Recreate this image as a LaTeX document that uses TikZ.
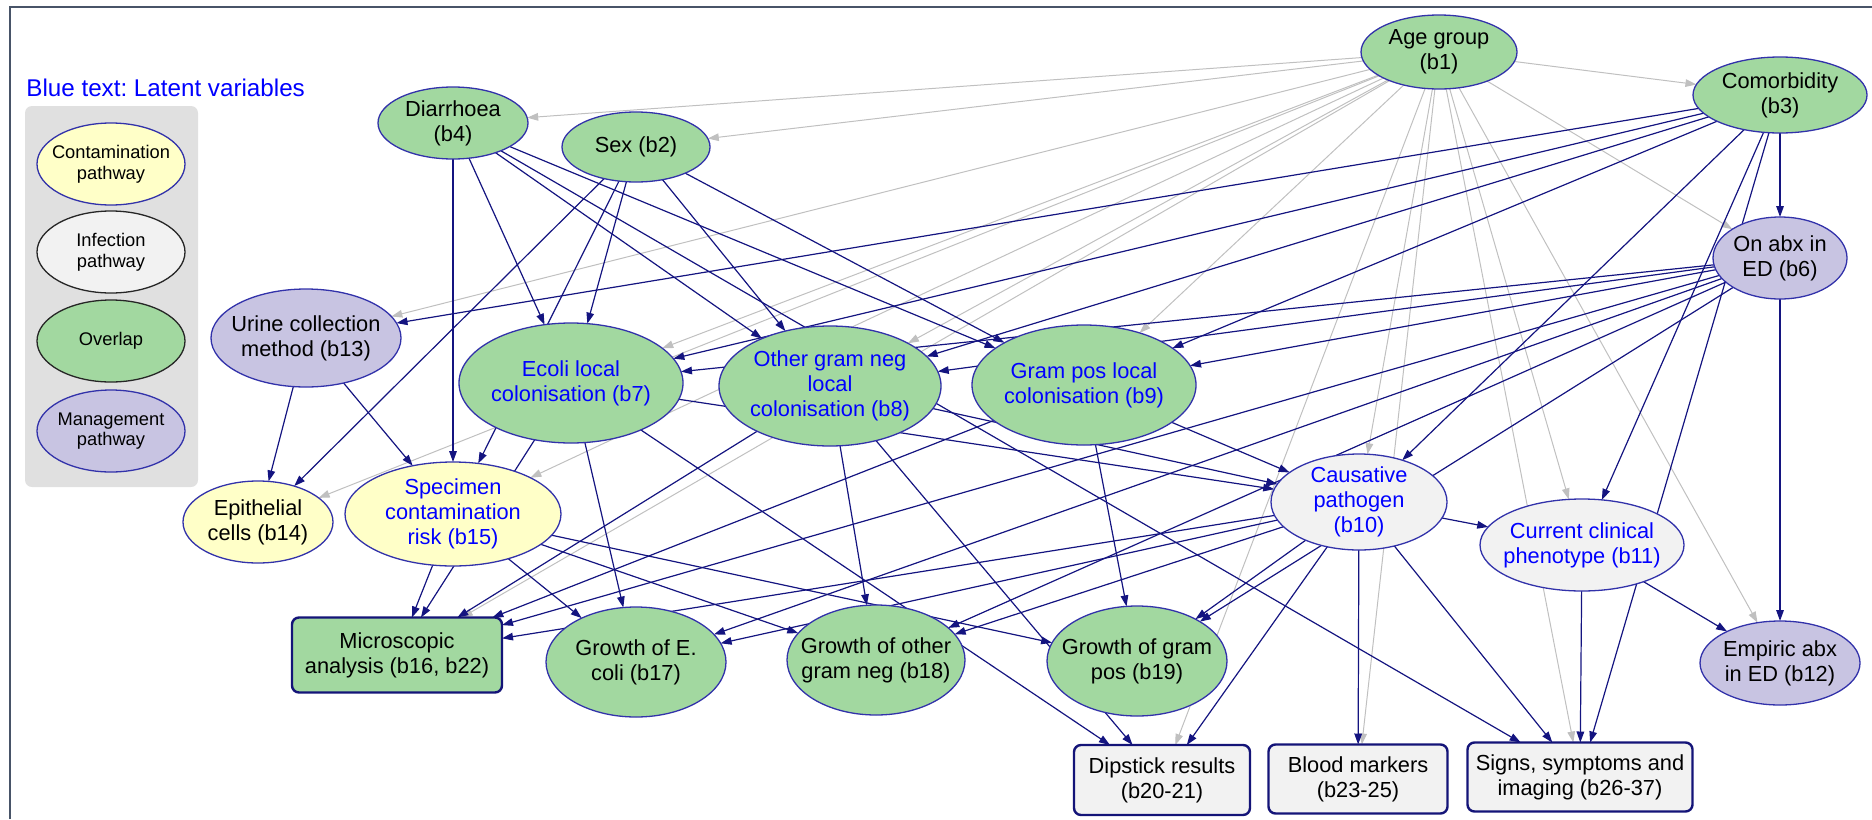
\documentclass[tikz,border=0pt]{standalone}
\usepackage{fontspec}
\setmainfont{Liberation Sans}
\usetikzlibrary{shapes.geometric,arrows.meta,backgrounds}
\definecolor{grn}{RGB}{162,216,160}
\definecolor{ylw}{RGB}{255,255,200}
\definecolor{prp}{RGB}{200,196,226}
\definecolor{lgy}{RGB}{242,242,242}
\definecolor{nodeb}{RGB}{50,50,170}
\definecolor{boxb}{RGB}{20,20,120}
\definecolor{navyc}{RGB}{20,20,128}
\definecolor{grayc}{RGB}{192,192,192}
\definecolor{latent}{RGB}{0,0,255}
\definecolor{legbg}{RGB}{224,224,224}
\definecolor{framec}{RGB}{72,84,104}
\frenchspacing
\begin{document}
\begin{tikzpicture}[x=0.5pt,y=-0.5pt,
 ell/.style={ellipse,draw=nodeb,line width=0.65pt,inner sep=0pt,outer sep=0pt},
 bx/.style={rectangle,rounded corners=3.5pt,draw=boxb,line width=1.2pt,inner sep=0pt,outer sep=0pt},
 lbl/.style={align=center,inner sep=0pt,font=\fontsize{10.9pt}{12.5pt}\selectfont},
 lat/.style={lbl,text=latent},
 leglbl/.style={align=center,inner sep=0pt,font=\fontsize{9.15pt}{10.3pt}\selectfont},
 navyedge/.style={draw=navyc,line width=0.6pt,-{Triangle[length=5.5pt,width=3.8pt]}},
 grayedge/.style={draw=grayc,line width=0.5pt,-{Triangle[length=5.5pt,width=3.8pt]}},
 frameline/.style={draw=framec,line width=1.25pt},
]
\useasboundingbox (0,0) rectangle (1872,819);

% title
\node[anchor=west,inner sep=0pt,text=latent,font=\fontsize{12.1pt}{14pt}\selectfont] (title) at (26,88) {Blue text: Latent variables};

% legend
\node[ell,fill=ylw,minimum width=74pt,minimum height=41pt] (lg1) at (111,164) {};
\node[leglbl] (lg1t) at (lg1) {Contamination\\pathway};
\node[ell,draw=black!85,fill=lgy,minimum width=74pt,minimum height=41pt] (lg2) at (111,252) {};
\node[leglbl] (lg2t) at (lg2) {Infection\\pathway};
\node[ell,draw=black!85,fill=grn,minimum width=74pt,minimum height=41pt] (lg3) at (111,341) {};
\node[leglbl] (lg3t) at (lg3) {Overlap};
\node[ell,fill=prp,minimum width=74pt,minimum height=41pt] (lg4) at (111,431) {};
\node[leglbl] (lg4t) at (lg4) {Management\\pathway};

% nodes
\node[ell,fill=grn,minimum width=78pt,minimum height=37pt] (b1) at (1439,52) {};
\node[lbl] (b1t) at (b1) {Age group\\(b1)};
\node[ell,fill=grn,minimum width=87pt,minimum height=38pt] (b3) at (1780,95) {};
\node[lbl] (b3t) at (b3) {Comorbidity\\(b3)};
\node[ell,fill=grn,minimum width=75pt,minimum height=36pt] (b4) at (453,123) {};
\node[lbl] (b4t) at (b4) {Diarrhoea\\(b4)};
\node[ell,fill=grn,minimum width=74pt,minimum height=35pt] (b2) at (636,147) {};
\node[lbl] (b2t) at (b2) {Sex (b2)};
\node[ell,fill=prp,minimum width=67pt,minimum height=41pt] (b6) at (1780,258) {};
\node[lbl] (b6t) at (b6) {On abx in\\ED (b6)};
\node[ell,fill=prp,minimum width=95pt,minimum height=49pt] (b13) at (306,338) {};
\node[lbl] (b13t) at (b13) {Urine collection\\method (b13)};
\node[ell,fill=grn,minimum width=112pt,minimum height=60pt] (b7) at (571,383) {};
\node[lat] (b7t) at (b7) {Ecoli local\\colonisation (b7)};
\node[ell,fill=grn,minimum width=111pt,minimum height=60pt] (b8) at (830,386) {};
\node[lat] (b8t) at (b8) {Other gram neg\\local\\colonisation (b8)};
\node[ell,fill=grn,minimum width=112pt,minimum height=60pt] (b9) at (1084,385) {};
\node[lat] (b9t) at (b9) {Gram pos local\\colonisation (b9)};
\node[ell,fill=lgy,minimum width=88pt,minimum height=48pt] (b10) at (1359,502) {};
\node[lat] (b10t) at (b10) {Causative\\pathogen\\(b10)};
\node[ell,fill=lgy,minimum width=102pt,minimum height=46pt] (b11) at (1582,545) {};
\node[lat] (b11t) at (b11) {Current clinical\\phenotype (b11)};
\node[ell,fill=ylw,minimum width=75pt,minimum height=41pt] (b14) at (258,522) {};
\node[lbl] (b14t) at (b14) {Epithelial\\cells (b14)};
\node[ell,fill=ylw,minimum width=108pt,minimum height=52pt] (b15) at (453,514) {};
\node[lat] (b15t) at (b15) {Specimen\\contamination\\risk (b15)};
\node[ell,fill=grn,minimum width=90pt,minimum height=55pt] (b17) at (636,662) {};
\node[lbl] (b17t) at (b17) {Growth of E.\\coli (b17)};
\node[ell,fill=grn,minimum width=89pt,minimum height=55pt] (b18) at (876,660) {};
\node[lbl] (b18t) at (b18) {Growth of other\\gram neg (b18)};
\node[ell,fill=grn,minimum width=90pt,minimum height=55pt] (b19) at (1137,661) {};
\node[lbl] (b19t) at (b19) {Growth of gram\\pos (b19)};
\node[ell,fill=prp,minimum width=80pt,minimum height=42pt] (b12) at (1780,663) {};
\node[lbl] (b12t) at (b12) {Empiric abx\\in ED (b12)};
\node[bx,fill=grn,minimum width=105pt,minimum height=37.5pt] (b16) at (397,655) {};
\node[lbl] (b16t) at (b16) {Microscopic\\analysis (b16, b22)};
\node[bx,fill=lgy,minimum width=88pt,minimum height=35pt] (dip) at (1162,780) {};
\node[lbl] (dipt) at (dip) {Dipstick results\\(b20-21)};
\node[bx,fill=lgy,minimum width=89.5pt,minimum height=34.5pt] (bld) at (1358,779) {};
\node[lbl] (bldt) at (bld) {Blood markers\\(b23-25)};
\node[bx,fill=lgy,minimum width=112.5pt,minimum height=34.5pt] (sgn) at (1580,777) {};
\node[lbl] (sgnt) at (sgn) {Signs, symptoms and\\imaging (b26-37)};

\coordinate (fr1) at (10,819);
\coordinate (fr2) at (10,7);
\coordinate (fr3) at (1872,7);

\begin{pgfonlayer}{background}
\draw[frameline] (fr1) -- (fr2) -- (fr3);
\fill[legbg,rounded corners=3.5pt] (25,106) rectangle (198,487);
% gray edges from age group
\foreach \t in {b4,b2,b3,b13,b7,b8,b9,b14,b15,b16,b10,b11,b6,b12,dip,bld,sgn}
  \draw[grayedge] (b1) -- (\t);
% navy edges
\foreach \t in {b14,b15,b7,b8,b9} \draw[navyedge] (b2) -- (\t);
\foreach \t in {b15,b7,b8,b9,sgn} \draw[navyedge] (b4) -- (\t);
\foreach \t in {b13,b7,b8,b9,b10,b11,b6,sgn} \draw[navyedge] (b3) -- (\t);
\foreach \t in {b7,b8,b9,b16,b17,b18,b19,b12} \draw[navyedge] (b6) -- (\t);
\foreach \t in {b14,b15} \draw[navyedge] (b13) -- (\t);
\foreach \t in {b10,b16,b17,dip} \draw[navyedge] (b7) -- (\t);
\foreach \t in {b10,b16,b18,dip} \draw[navyedge] (b8) -- (\t);
\foreach \t in {b10,b16,b19} \draw[navyedge] (b9) -- (\t);
\foreach \t in {b16,b17,b18,b19} \draw[navyedge] (b15) -- (\t);
\foreach \t in {b11,b16,b17,b18,b19,dip,bld,sgn} \draw[navyedge] (b10) -- (\t);
\foreach \t in {sgn,b12} \draw[navyedge] (b11) -- (\t);
\end{pgfonlayer}
\end{tikzpicture}
\end{document}
